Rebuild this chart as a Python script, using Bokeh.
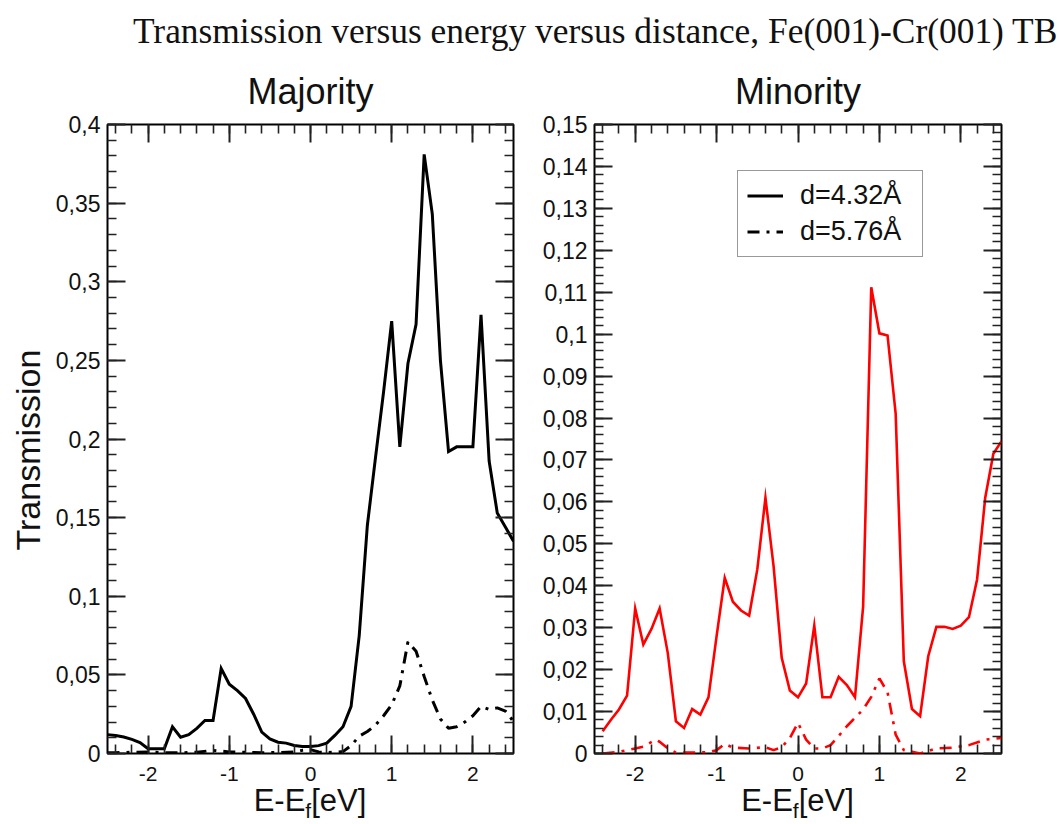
import numpy as np
from bokeh.plotting import figure
from bokeh.models import (FixedTicker, LinearAxis, Title, Legend, LegendItem, Div,
                          CustomJSTickFormatter, Range1d, ColumnDataSource)
from bokeh.layouts import column, row
from bokeh.embed import file_html
from bokeh.resources import INLINE

# ---------------- texts ----------------
main_title = "Transmission versus energy versus distance, Fe(001)-Cr(001) TB"
panel_titles = ["Majority", "Minority"]
legend_labels = ["d=4.32\u00c5", "d=5.76\u00c5"]
y_label = "Transmission"
x_label_parts = ["E-E", "f", "[eV]"]

# ---------------- ticks ----------------
x_ticks = [-2, -1, 0, 1, 2]
x_tick_labels = ["-2", "-1", "0", "1", "2"]
maj_y_ticks = [0.0, 0.05, 0.1, 0.15, 0.2, 0.25, 0.3, 0.35, 0.4]
maj_y_tick_labels = ["0", "0,05", "0,1", "0,15", "0,2", "0,25", "0,3", "0,35", "0,4"]
min_y_ticks = [0.0, 0.01, 0.02, 0.03, 0.04, 0.05, 0.06, 0.07, 0.08, 0.09, 0.1,
               0.11, 0.12, 0.13, 0.14, 0.15]
min_y_tick_labels = ["0", "0,01", "0,02", "0,03", "0,04", "0,05", "0,06", "0,07",
                     "0,08", "0,09", "0,1", "0,11", "0,12", "0,13", "0,14", "0,15"]

# ---------------- data ----------------
maj_e_d432 = [-2.5, -2.4, -2.3, -2.2, -2.1, -2.0, -1.9, -1.8, -1.7, -1.6, -1.5,
              -1.4, -1.3, -1.2, -1.1, -1.0, -0.9, -0.8, -0.7, -0.6, -0.5,
              -0.4, -0.3, -0.2, -0.1, 0.0, 0.1, 0.2, 0.3, 0.4, 0.5,
              0.6, 0.7, 0.8, 0.9, 1.0, 1.1, 1.2, 1.3, 1.4, 1.5,
              1.6, 1.7, 1.8, 1.9, 2.0, 2.1, 2.2, 2.3, 2.4, 2.5]
maj_t_d432 = [0.012, 0.0115, 0.0105, 0.009, 0.007, 0.003, 0.003, 0.003, 0.017, 0.0104, 0.012,
              0.016, 0.021, 0.021, 0.054, 0.044, 0.040, 0.035, 0.025, 0.0136, 0.0093,
              0.0072, 0.0066, 0.0051, 0.0045, 0.0045, 0.005, 0.0066, 0.0115, 0.017, 0.030,
              0.075, 0.145, 0.188, 0.23, 0.275, 0.195, 0.248, 0.273, 0.381, 0.343,
              0.25, 0.192, 0.195, 0.195, 0.195, 0.279, 0.186, 0.153, 0.144, 0.135]

maj_e_d576 = [-2.5, -2.4, -2.2, -2.0, -1.8, -1.6, -1.4, -1.2, -1.1, -1.0,
              -0.8, -0.6, -0.4, -0.2, -0.1, 0.0, 0.1, 0.2, 0.3, 0.4,
              0.5, 0.6, 0.7, 0.8, 0.9, 1.0, 1.1, 1.2, 1.3, 1.4,
              1.5, 1.6, 1.7, 1.8, 1.9, 2.0, 2.1, 2.2, 2.3, 2.4, 2.45, 2.5]
maj_t_d576 = [0.0005, 0.0005, 0.0008, 0.001, 0.0005, 0.0004, 0.0008, 0.002, 0.0015, 0.001,
              0.0008, 0.0005, 0.0006, 0.001, 0.002, 0.0025, 0.001, 0.0006, 0.0008, 0.0012,
              0.005, 0.011, 0.014, 0.018, 0.024, 0.031, 0.043, 0.071, 0.065, 0.049,
              0.034, 0.022, 0.016, 0.017, 0.02, 0.024, 0.03, 0.028, 0.029, 0.027, 0.024, 0.02]

min_e_d432 = [-2.4, -2.3, -2.2, -2.1, -2.0, -1.9, -1.8, -1.7, -1.6, -1.5,
              -1.4, -1.3, -1.2, -1.1, -1.0, -0.9, -0.8, -0.7, -0.6, -0.5,
              -0.4, -0.3, -0.2, -0.1, 0.0, 0.1, 0.2, 0.3, 0.4, 0.5,
              0.6, 0.7, 0.8, 0.9, 1.0, 1.1, 1.2, 1.3, 1.4, 1.5,
              1.6, 1.7, 1.8, 1.9, 2.0, 2.1, 2.2, 2.3, 2.4, 2.5]
min_t_d432 = [0.0053, 0.008, 0.0105, 0.0138, 0.0346, 0.026, 0.0297, 0.0346, 0.024, 0.0077,
              0.0061, 0.0106, 0.0093, 0.0134, 0.028, 0.0419, 0.0362, 0.0341, 0.0329, 0.0439,
              0.061, 0.0447, 0.0228, 0.015, 0.0134, 0.0167, 0.0305, 0.0134, 0.0134, 0.0183,
              0.0163, 0.0134, 0.035, 0.1112, 0.1002, 0.0997, 0.081, 0.022, 0.0106, 0.0089,
              0.0232, 0.0302, 0.0302, 0.0297, 0.0305, 0.0325, 0.0415, 0.061, 0.0715, 0.0745]

min_e_d576 = [-2.4, -2.2, -2.0, -1.9, -1.75, -1.7, -1.6, -1.5, -1.3, -1.1,
              -1.0, -0.9, -0.8, -0.6, -0.4, -0.3, -0.2, -0.1, 0.0, 0.1,
              0.2, 0.3, 0.4, 0.5, 0.6, 0.7, 0.8, 0.9, 1.0, 1.1,
              1.2, 1.3, 1.4, 1.5, 1.7, 1.9, 2.1, 2.3, 2.5]
min_t_d576 = [0.0, 0.0004, 0.0012, 0.0016, 0.0033, 0.0028, 0.0012, 0.0002, 0.0002, 0.0003,
              0.0008, 0.0023, 0.0014, 0.0012, 0.0015, 0.0008, 0.0015, 0.0037, 0.0073, 0.0033,
              0.0012, 0.0012, 0.002, 0.0042, 0.0065, 0.0085, 0.0105, 0.0135, 0.0179, 0.0146,
              0.0045, 0.0008, 0.0004, 0.0, 0.0012, 0.0014, 0.002, 0.0033, 0.0037]

# ---------------- styling ----------------
SANS = "Liberation Sans"
DASH = "12 7 3 7"
FRAME_H = 629


def tick_formatter(tvals, tlabels):
    return CustomJSTickFormatter(
        args=dict(tvals=list(tvals), tlabels=list(tlabels)),
        code="const k = tvals.findIndex(t => Math.abs(t - tick) < 1e-9);"
             "return k >= 0 ? tlabels[k] : '';")


def blank_formatter():
    return CustomJSTickFormatter(code="return '';")


def style_axis(ax, label_size="23px", standoff=7):
    ax.axis_line_color = None
    ax.major_tick_in = 18
    ax.major_tick_out = 0
    ax.minor_tick_in = 9
    ax.minor_tick_out = 0
    ax.major_tick_line_width = 2
    ax.minor_tick_line_width = 1.6
    ax.major_tick_line_color = "#222222"
    ax.minor_tick_line_color = "#222222"
    ax.major_label_text_font = SANS
    ax.major_label_text_font_size = label_size
    ax.major_label_text_color = "#111111"
    ax.major_label_standoff = standoff


def make_panel(title, y_end, y_ticks, y_tick_labels, y_minor, frame_w, bl, br):
    p = figure(frame_width=frame_w, frame_height=FRAME_H,
               x_range=Range1d(-2.5, 2.5), y_range=Range1d(0, y_end),
               output_backend="svg", toolbar_location=None, title=title,
               min_border_left=bl, min_border_right=br,
               min_border_top=70, min_border_bottom=36)
    p.grid.visible = False
    p.background_fill_color = "white"
    p.border_fill_color = "white"
    p.outline_line_color = "black"
    p.outline_line_width = 2
    p.title.align = "center"
    p.title.text_font = SANS
    p.title.text_font_style = "normal"
    p.title.text_font_size = "36px"
    p.title.text_color = "#111111"
    p.title.standoff = 26

    x_minor = [round(v, 1) for v in np.arange(-2.4, 2.41, 0.2)]
    xt = FixedTicker(ticks=x_ticks, minor_ticks=x_minor)
    yt = FixedTicker(ticks=y_ticks, minor_ticks=y_minor)

    xa = p.xaxis[0]
    xa.ticker = xt
    xa.formatter = tick_formatter(x_ticks, x_tick_labels)
    style_axis(xa, label_size="21px", standoff=13)
    ya = p.yaxis[0]
    ya.ticker = yt
    ya.formatter = tick_formatter(y_ticks, y_tick_labels)
    style_axis(ya, standoff=7)

    top = LinearAxis(ticker=xt, formatter=blank_formatter())
    style_axis(top, label_size="1px", standoff=0)
    p.add_layout(top, "above")
    right = LinearAxis(ticker=yt, formatter=blank_formatter())
    style_axis(right, label_size="1px", standoff=0)
    p.add_layout(right, "right")
    return p


# -------- left panel: majority --------
maj_minor = [round(v, 2) for v in np.arange(0, 0.401, 0.01)]
p1 = make_panel(panel_titles[0], 0.4, maj_y_ticks, maj_y_tick_labels, maj_minor, 406, 107, 23)
src_maj_a = ColumnDataSource(dict(e=maj_e_d432, t=maj_t_d432))
src_maj_b = ColumnDataSource(dict(e=maj_e_d576, t=maj_t_d576))
p1.line("e", "t", source=src_maj_a, line_color="black", line_width=3, line_join="miter")
p1.line("e", "t", source=src_maj_b, line_color="black", line_width=3, line_dash=DASH)

ytitle = Title(text=y_label, align="left", offset=203, standoff=11,
               text_font=SANS, text_font_size="34px", text_font_style="normal",
               text_color="#111111")
p1.add_layout(ytitle, "left")

# -------- right panel: minority --------
min_minor = [round(v, 3) for v in np.arange(0, 0.1501, 0.002)]
p2 = make_panel(panel_titles[1], 0.15, min_y_ticks, min_y_tick_labels, min_minor, 407, 58, 10)
src_min_a = ColumnDataSource(dict(e=min_e_d432, t=min_t_d432))
src_min_b = ColumnDataSource(dict(e=min_e_d576, t=min_t_d576))
p2.line("e", "t", source=src_min_a, line_color="#ff0000", line_width=2.6, line_join="miter")
p2.line("e", "t", source=src_min_b, line_color="#ff0000", line_width=2.6, line_dash=DASH)

# legend (black samples, as in the original); the sample renderers hold no visible point
nan_src = ColumnDataSource(dict(e=np.array([np.nan]), t=np.array([np.nan])))
leg_a = p2.line("e", "t", source=nan_src, line_color="black", line_width=3)
leg_b = p2.line("e", "t", source=nan_src, line_color="black", line_width=3, line_dash=DASH)
legend = Legend(items=[LegendItem(label=legend_labels[0], renderers=[leg_a]),
                       LegendItem(label=legend_labels[1], renderers=[leg_b])],
                location=(143, 496), orientation="vertical")
legend.label_text_font = SANS
legend.label_text_font_size = "27px"
legend.label_text_color = "#111111"
legend.label_height = 27
legend.glyph_height = 27
legend.glyph_width = 36
legend.label_width = 113
legend.label_standoff = 17
legend.spacing = 5
legend.padding = 9
legend.margin = 0
legend.border_line_color = "#333333"
legend.border_line_width = 1.5
legend.background_fill_color = "white"
legend.background_fill_alpha = 1
p2.add_layout(legend)

# -------- header and x-axis labels (HTML, so that the subscript is real text) --------
header = Div(text=('<div style="font-family:\'Liberation Serif\',serif;font-size:35.4px;'
                   'white-space:nowrap;padding-left:133px;padding-top:12px;line-height:1.1;'
                   'color:#111111;">' + main_title + '</div>'),
             width=1043, height=54, margin=0)


def x_label_div(left, frame_w, total_w):
    html = ('<div style="margin-left:%dpx;width:%dpx;text-align:center;white-space:nowrap;'
            'font-family:\'Liberation Sans\',sans-serif;font-size:31px;line-height:24px;'
            'color:#111111;">%s<sub style="font-size:21px;line-height:0;vertical-align:-7px;">'
            '%s</sub>%s</div>') % (left, frame_w, x_label_parts[0], x_label_parts[1],
                                   x_label_parts[2])
    return Div(text=html, width=total_w, height=30, margin=0)


xl1 = x_label_div(107, 406, 107 + 406 + 23)
xl2 = x_label_div(58, 407, 58 + 407 + 10)

layout = column(header, row(p1, p2, spacing=0), row(xl1, xl2, spacing=0), spacing=0)

with open("out.html", "w") as f:
    f.write(file_html(layout, INLINE))
